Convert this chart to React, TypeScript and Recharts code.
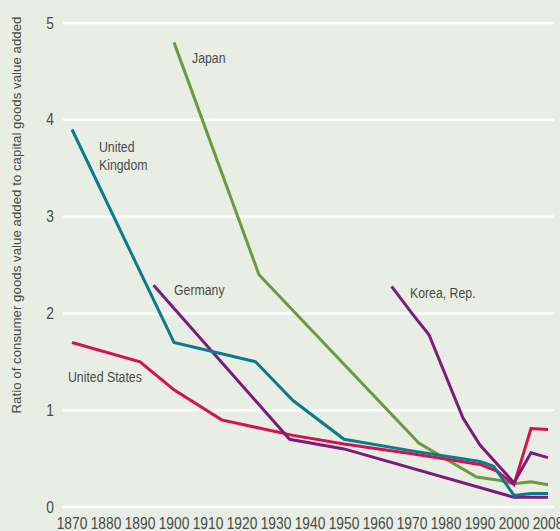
import React from "react";
import { CartesianGrid, Customized, Line, LineChart, XAxis, YAxis } from "recharts";

// x positions: the last observation (2008) sits on the final tick, drawn at the 2010 slot
const xTicks = [1870, 1880, 1890, 1900, 1910, 1920, 1930, 1940, 1950, 1960, 1970, 1980, 1990, 2000, 2010];
const xTickLabels = ["1870", "1880", "1890", "1900", "1910", "1920", "1930", "1940", "1950", "1960", "1970", "1980", "1990", "2000", "2008"];
const yTicks = [0, 1, 2, 3, 4, 5];

const japanYears = [1900, 1925, 1972, 1989, 1995, 2000, 2005, 2010];
const japanValues = [4.8, 2.4, 0.66, 0.31, 0.28, 0.24, 0.26, 0.23];

const ukYears = [1870, 1900, 1924, 1935, 1950, 1970, 1990, 1994, 2000, 2005, 2010];
const ukValues = [3.9, 1.7, 1.5, 1.1, 0.7, 0.58, 0.47, 0.42, 0.12, 0.14, 0.14];

const usYears = [1870, 1890, 1900, 1914, 1935, 1950, 1970, 1990, 1995, 2000, 2005, 2010];
const usValues = [1.7, 1.5, 1.21, 0.9, 0.74, 0.65, 0.55, 0.44, 0.37, 0.23, 0.81, 0.8];

const germanyYears = [1894, 1934, 1950, 2000, 2005, 2010];
const germanyValues = [2.29, 0.7, 0.6, 0.1, 0.1, 0.1];

const koreaYears = [1964, 1970, 1975, 1985, 1990, 2000, 2005, 2010];
const koreaValues = [2.28, 2.0, 1.78, 0.92, 0.64, 0.25, 0.56, 0.51];

const toRows = (years: number[], values: number[]) => years.map((year, i) => ({ year, value: values[i] }));

const series = [
  { name: "Japan", data: toRows(japanYears, japanValues), color: "#6b9a3f" },
  { name: "United States", data: toRows(usYears, usValues), color: "#d3124f" },
  { name: "Germany", data: toRows(germanyYears, germanyValues), color: "#7c1b7c" },
  { name: "United Kingdom", data: toRows(ukYears, ukValues), color: "#0a7a8c" },
  { name: "Korea, Rep.", data: toRows(koreaYears, koreaValues), color: "#7c1b7c" },
];

// narrow look: Liberation Sans squeezed horizontally
const FONT = "'Liberation Sans', Arial, sans-serif";
const TEXT = "#4a4a4a";

function NarrowText({ x, y, size, squeeze = 0.82, anchor = "start", children }: any) {
  return (
    <text
      transform={`translate(${x} ${y}) scale(${squeeze} 1)`}
      textAnchor={anchor}
      fill={TEXT}
      fontSize={size}
      fontFamily={FONT}
    >
      {children}
    </text>
  );
}

function XTick(props: any) {
  const { x, payload } = props;
  return (
    <NarrowText x={x} y={529} size={16} squeeze={0.86} anchor="middle">
      {xTickLabels[xTicks.indexOf(payload.value)]}
    </NarrowText>
  );
}

function YTick(props: any) {
  const { x, y, payload } = props;
  return (
    <NarrowText x={x} y={y + 5.5} size={16} squeeze={0.86} anchor="end">
      {payload.value}
    </NarrowText>
  );
}

const seriesLabels = [
  { lines: ["Japan"], x: 192, y: 63 },
  { lines: ["United", "Kingdom"], x: 99, y: 152 },
  { lines: ["Germany"], x: 174, y: 295 },
  { lines: ["Korea, Rep."], x: 410, y: 298 },
  { lines: ["United States"], x: 68, y: 382 },
];

function SeriesLabels() {
  return (
    <g>
      {seriesLabels.map((l) =>
        l.lines.map((s, i) => (
          <NarrowText key={s} x={l.x} y={l.y + i * 18} size={15}>
            {s}
          </NarrowText>
        ))
      )}
      <text
        x={0}
        y={0}
        transform="translate(21 215) rotate(-90)"
        textAnchor="middle"
        fill={TEXT}
        fontSize={13.3}
        fontFamily={FONT}
      >
        Ratio of consumer goods value added to capital goods value added
      </text>
    </g>
  );
}

export default function App() {
  return (
    <div style={{ width: 560, height: 531, background: "#e8eee3" }}>
      <style>{`body{margin:0}`}</style>
      <LineChart width={560} height={531} margin={{ top: 23, right: 6, left: 0, bottom: 0 }}>
        <CartesianGrid horizontal vertical={false} stroke="#ffffff" strokeWidth={2.5} />
        <XAxis
          type="number"
          dataKey="year"
          domain={[1870, 2010]}
          ticks={xTicks}
          interval={0}
          padding={{ left: 9, right: 6 }}
          axisLine={false}
          tickLine={false}
          height={24}
          tick={<XTick />}
        />
        <YAxis
          type="number"
          domain={[0, 5]}
          ticks={yTicks}
          width={63}
          axisLine={false}
          tickLine={false}
          tickMargin={3}
          tick={<YTick />}
        />
        {series.map((s) => (
          <Line
            key={s.name}
            data={s.data}
            dataKey="value"
            name={s.name}
            type="linear"
            stroke={s.color}
            strokeWidth={3}
            dot={false}
            isAnimationActive={false}
          />
        ))}
        <Customized component={SeriesLabels} />
      </LineChart>
    </div>
  );
}
